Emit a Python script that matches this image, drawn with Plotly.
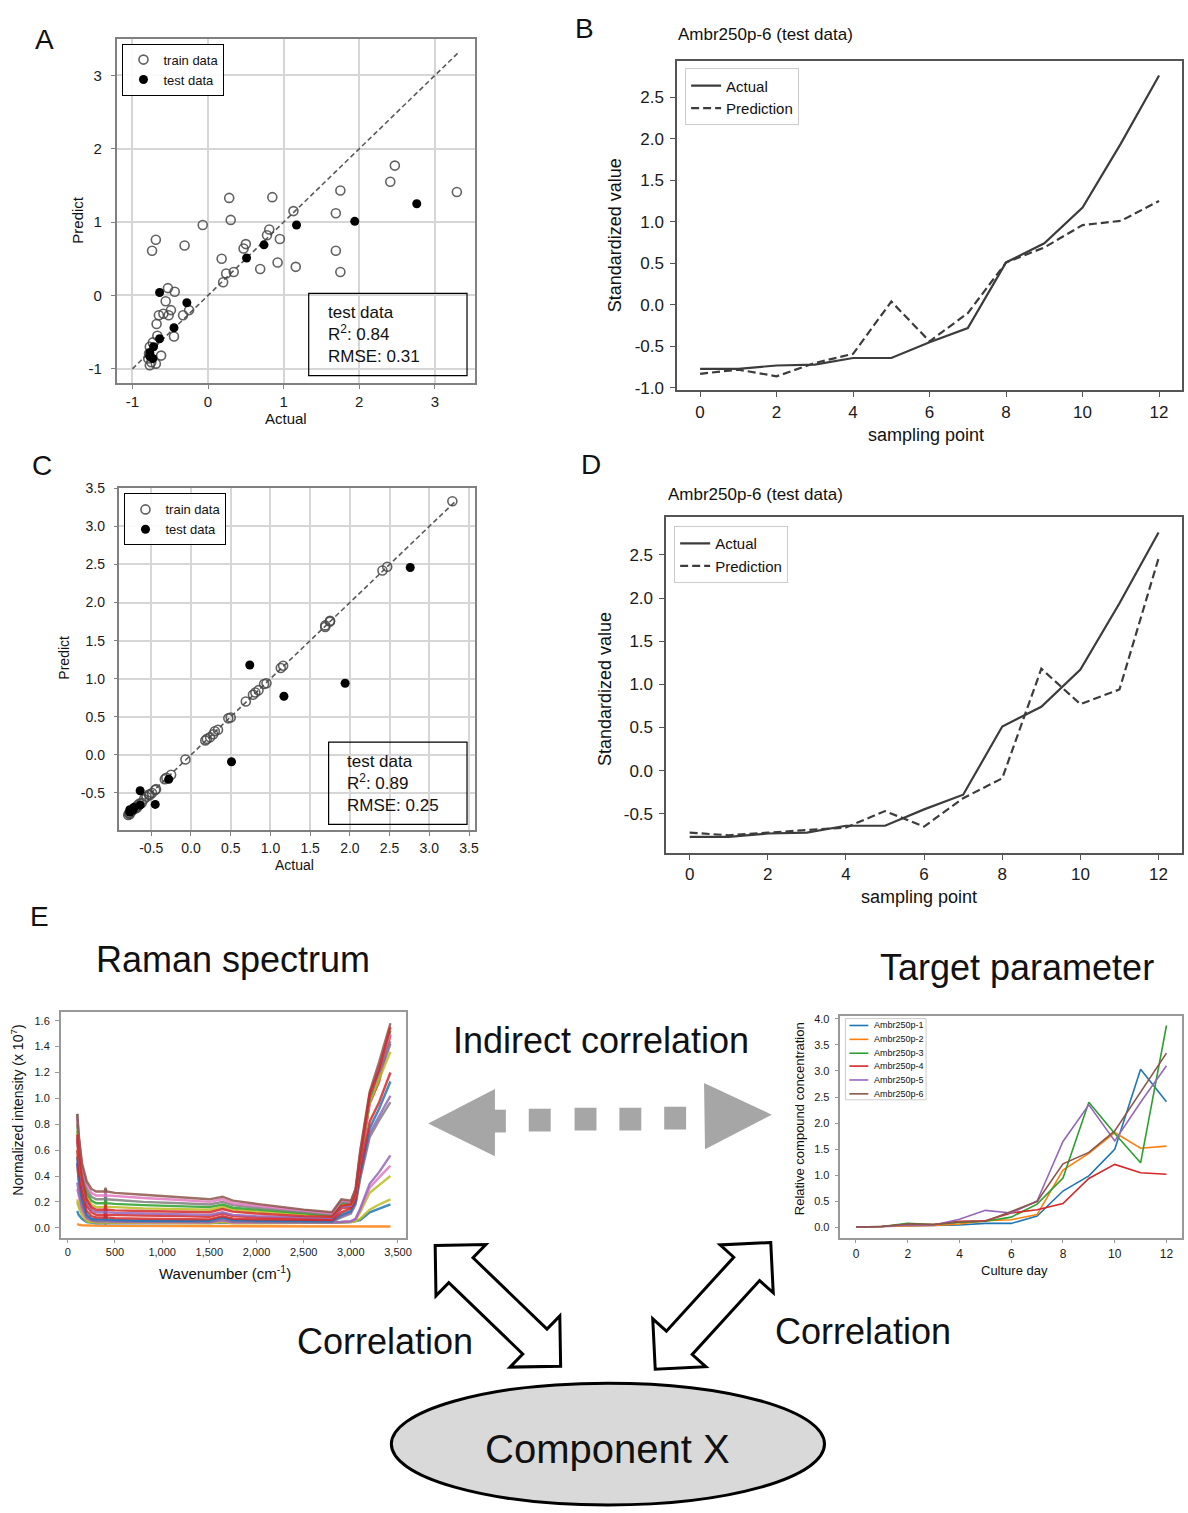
import math
import plotly.graph_objects as go

W, H = 1188, 1513
FONT = "Liberation Sans, Arial, Helvetica, sans-serif"


def px(x):
    return x / W


def py(y):
    return 1 - y / H


# ---------------- data ----------------
# Panels B / D (test run Ambr250p-6)
sampling_points = [0, 1, 2, 3, 4, 5, 6, 7, 8, 9, 10, 11, 12]
actual_std = [-0.77, -0.77, -0.73, -0.72, -0.64, -0.64, -0.45, -0.28, 0.51, 0.74, 1.17, 1.94, 2.76]
pred_B = [-0.83, -0.78, -0.86, -0.70, -0.59, 0.04, -0.44, -0.10, 0.51, 0.69, 0.96, 1.01, 1.25]
pred_D = [-0.72, -0.75, -0.72, -0.69, -0.66, -0.47, -0.65, -0.32, -0.09, 1.18, 0.77, 0.94, 2.46]

# Panels A / C training points
train_actual = [-0.69, -0.74, -0.31, -0.07, 0.28, 0.30, 0.85, 1.13, 0.81, 0.78, 0.95, 0.50, 0.47, 0.18,
                0.24, 0.34, 0.20, 0.69, 0.92, 1.16, 1.69, 1.75, 1.69, 1.75, 2.41, 2.47, 3.29, -0.53,
                -0.44, -0.56, -0.49, -0.65, -0.59, -0.52, -0.33, -0.25, -0.68, -0.45, -0.67, -0.62,
                -0.69, -0.77, -0.77, -0.78, -0.73, -0.79, -0.75]
train_pred_A = [0.76, 0.61, 0.68, 0.96, 1.33, 1.03, 1.34, 1.15, 0.90, 0.82, 0.77, 0.70, 0.64, 0.50,
                0.30, 0.32, 0.18, 0.36, 0.45, 0.39, 1.12, 1.43, 0.61, 0.32, 1.55, 1.77, 1.41, 0.10,
                0.05, -0.08, -0.20, -0.27, -0.25, -0.27, -0.27, -0.20, -0.39, -0.56, -0.55, -0.82,
                -0.93, -0.95, -0.70, -0.79, -0.64, -0.86, -0.91]
train_pred_C = [-0.68, -0.73, -0.30, -0.06, 0.27, 0.31, 0.85, 1.14, 0.82, 0.79, 0.94, 0.49, 0.48, 0.19,
                0.23, 0.33, 0.21, 0.70, 0.93, 1.17, 1.70, 1.75, 1.68, 1.76, 2.42, 2.47, 3.33, -0.52,
                -0.45, -0.55, -0.50, -0.64, -0.58, -0.53, -0.32, -0.26, -0.69, -0.46, -0.66, -0.63,
                -0.70, -0.76, -0.78, -0.77, -0.72, -0.79, -0.74]
diag_A = [-1.0, 3.3]
diag_C = [-0.8, 3.33]

# Panel E: target parameter
culture_day = [0, 1, 2, 3, 4, 5, 6, 7, 8, 9, 10, 11, 12]
ambr_names = ["Ambr250p-1", "Ambr250p-2", "Ambr250p-3", "Ambr250p-4", "Ambr250p-5", "Ambr250p-6"]
ambr_1 = [0.01, 0.02, 0.03, 0.04, 0.05, 0.08, 0.08, 0.22, 0.70, 0.99, 1.50, 3.03, 2.41]
ambr_2 = [0.01, 0.02, 0.04, 0.04, 0.07, 0.13, 0.15, 0.25, 1.10, 1.42, 1.82, 1.52, 1.56]
ambr_3 = [0.01, 0.02, 0.08, 0.06, 0.10, 0.12, 0.20, 0.45, 0.95, 2.40, 1.80, 1.24, 3.87]
ambr_4 = [0.01, 0.02, 0.06, 0.06, 0.12, 0.13, 0.28, 0.34, 0.46, 0.94, 1.21, 1.05, 1.02]
ambr_5 = [0.01, 0.02, 0.05, 0.05, 0.16, 0.33, 0.28, 0.51, 1.65, 2.35, 1.66, 2.40, 3.10]
ambr_6 = [0.01, 0.02, 0.07, 0.06, 0.11, 0.12, 0.31, 0.50, 1.22, 1.44, 1.85, 2.60, 3.34]
ambr_colors = ["#1f77b4", "#ff7f0e", "#2ca02c", "#d62728", "#9467bd", "#8c564b"]

# Panel E: Raman spectra (values read at these wavenumbers)
wavenumber = [100, 115, 150, 200, 250, 300, 390, 400, 410, 500, 800, 1200, 1500, 1640, 1750, 2000,
              2500, 2800, 2900, 3000, 3050, 3100, 3200, 3300, 3420]
spec_brown = [0.88, 0.72, 0.50, 0.36, 0.30, 0.28, 0.28, 0.31, 0.28, 0.27, 0.255, 0.235, 0.22, 0.24, 0.21, 0.185, 0.14,
              0.12, 0.22, 0.21, 0.30, 0.60, 1.05, 1.28, 1.58]
spec_pink = [0.85, 0.70, 0.48, 0.33, 0.27, 0.25, 0.25, 0.28, 0.25, 0.245, 0.23, 0.215, 0.20, 0.22, 0.19, 0.17, 0.13,
             0.11, 0.21, 0.20, 0.29, 0.58, 1.03, 1.25, 1.50]
spec_gray = [0.88, 0.70, 0.46, 0.30, 0.24, 0.22, 0.22, 0.26, 0.22, 0.215, 0.20, 0.19, 0.18, 0.20, 0.175, 0.155, 0.12,
             0.10, 0.20, 0.19, 0.28, 0.57, 1.01, 1.22, 1.44]
spec_green = [0.80, 0.66, 0.43, 0.27, 0.21, 0.19, 0.19, 0.22, 0.19, 0.185, 0.175, 0.165, 0.16, 0.18, 0.155, 0.14, 0.11,
              0.095, 0.19, 0.19, 0.27, 0.56, 1.00, 1.22, 1.52]
spec_olive = [0.75, 0.60, 0.40, 0.24, 0.18, 0.16, 0.16, 0.20, 0.16, 0.16, 0.15, 0.145, 0.14, 0.16, 0.14, 0.125, 0.10,
              0.09, 0.18, 0.18, 0.26, 0.54, 0.97, 1.15, 1.36]
spec_red = [0.72, 0.58, 0.38, 0.22, 0.16, 0.14, 0.14, 0.18, 0.14, 0.135, 0.13, 0.125, 0.12, 0.145, 0.125, 0.11, 0.09,
            0.085, 0.17, 0.18, 0.26, 0.53, 1.03, 1.22, 1.55]
spec_purple = [0.70, 0.55, 0.35, 0.20, 0.14, 0.12, 0.12, 0.16, 0.12, 0.115, 0.11, 0.105, 0.10, 0.12, 0.10, 0.09, 0.08,
               0.075, 0.16, 0.17, 0.25, 0.51, 0.98, 1.17, 1.42]
spec_red2 = [0.68, 0.52, 0.32, 0.17, 0.12, 0.10, 0.10, 0.14, 0.10, 0.10, 0.095, 0.09, 0.085, 0.11, 0.09, 0.08, 0.07,
             0.065, 0.15, 0.16, 0.24, 0.50, 0.96, 1.13, 1.49]
spec_red3 = [0.60, 0.45, 0.27, 0.13, 0.09, 0.08, 0.08, 0.12, 0.08, 0.075, 0.07, 0.065, 0.065, 0.09, 0.07, 0.065, 0.06,
             0.06, 0.12, 0.15, 0.22, 0.45, 0.82, 0.97, 1.20]
spec_blue = [0.55, 0.40, 0.22, 0.10, 0.07, 0.065, 0.065, 0.10, 0.065, 0.06, 0.055, 0.055, 0.055, 0.08, 0.06, 0.055, 0.05,
             0.05, 0.10, 0.13, 0.20, 0.42, 0.77, 0.92, 1.13]
spec_purple2 = [0.50, 0.38, 0.20, 0.09, 0.065, 0.06, 0.06, 0.09, 0.06, 0.055, 0.05, 0.05, 0.05, 0.075, 0.055, 0.05, 0.05,
                0.05, 0.09, 0.12, 0.19, 0.40, 0.73, 0.86, 1.02]
spec_gray2 = [0.50, 0.36, 0.19, 0.085, 0.06, 0.055, 0.055, 0.085, 0.055, 0.05, 0.05, 0.045, 0.045, 0.07, 0.05, 0.045,
              0.045, 0.045, 0.08, 0.11, 0.18, 0.38, 0.70, 0.83, 0.97]
spec_purple3 = [0.35, 0.28, 0.16, 0.08, 0.06, 0.05, 0.05, 0.07, 0.05, 0.05, 0.045, 0.045, 0.045, 0.06, 0.045, 0.045,
                0.04, 0.04, 0.045, 0.05, 0.07, 0.15, 0.34, 0.43, 0.56]
spec_pink2 = [0.30, 0.25, 0.14, 0.07, 0.055, 0.05, 0.05, 0.065, 0.05, 0.045, 0.045, 0.04, 0.04, 0.055, 0.04, 0.04,
              0.04, 0.04, 0.045, 0.05, 0.065, 0.14, 0.31, 0.39, 0.48]
spec_olive2 = [0.22, 0.18, 0.12, 0.06, 0.05, 0.045, 0.045, 0.06, 0.045, 0.04, 0.04, 0.04, 0.04, 0.05, 0.04, 0.04,
               0.04, 0.04, 0.045, 0.05, 0.06, 0.12, 0.27, 0.33, 0.40]
spec_olive3 = [0.20, 0.16, 0.10, 0.05, 0.045, 0.04, 0.04, 0.05, 0.04, 0.04, 0.04, 0.035, 0.035, 0.045, 0.035, 0.035,
               0.035, 0.035, 0.04, 0.045, 0.05, 0.07, 0.14, 0.18, 0.22]
spec_blue2 = [0.13, 0.10, 0.07, 0.045, 0.04, 0.035, 0.035, 0.30, 0.035, 0.035, 0.035, 0.035, 0.035, 0.04, 0.035, 0.035,
              0.035, 0.035, 0.04, 0.045, 0.05, 0.06, 0.12, 0.15, 0.18]
spec_orange = [0.03, 0.025, 0.02, 0.018, 0.016, 0.015, 0.015, 0.02, 0.015, 0.015, 0.015, 0.015, 0.015, 0.015, 0.015,
               0.015, 0.014, 0.013, 0.013, 0.012, 0.012, 0.012, 0.012, 0.012, 0.01]

# tick labels
ticks_A = [-1, 0, 1, 2, 3]
ticktext_A = ["-1", "0", "1", "2", "3"]
ticks_C = [-0.5, 0.0, 0.5, 1.0, 1.5, 2.0, 2.5, 3.0, 3.5]
ticktext_C = ["-0.5", "0.0", "0.5", "1.0", "1.5", "2.0", "2.5", "3.0", "3.5"]
ticks_B_y = [-1.0, -0.5, 0.0, 0.5, 1.0, 1.5, 2.0, 2.5]
ticktext_B_y = ["-1.0", "-0.5", "0.0", "0.5", "1.0", "1.5", "2.0", "2.5"]
ticks_D_y = [-0.5, 0.0, 0.5, 1.0, 1.5, 2.0, 2.5]
ticktext_D_y = ["-0.5", "0.0", "0.5", "1.0", "1.5", "2.0", "2.5"]
ticks_sp = [0, 2, 4, 6, 8, 10, 12]
ticks_wn = [0, 500, 1000, 1500, 2000, 2500, 3000, 3500]
ticktext_wn = ["0", "500", "1,000", "1,500", "2,000", "2,500", "3,000", "3,500"]
ticks_int = [0.0, 0.2, 0.4, 0.6, 0.8, 1.0, 1.2, 1.4, 1.6]
ticktext_int = ["0.0", "0.2", "0.4", "0.6", "0.8", "1.0", "1.2", "1.4", "1.6"]
ticks_conc = [0.0, 0.5, 1.0, 1.5, 2.0, 2.5, 3.0, 3.5, 4.0]
ticktext_conc = ["0.0", "0.5", "1.0", "1.5", "2.0", "2.5", "3.0", "3.5", "4.0"]

# ---------------- figure ----------------
fig = go.Figure()

open_marker = dict(symbol="circle-open", size=9, color="rgba(70,70,70,0.85)", line=dict(width=1.6))
fill_marker = dict(symbol="circle", size=9, color="black")
dark = "#3c3c3c"

# Panel A
fig.add_trace(go.Scatter(x=diag_A, y=diag_A, mode="lines", line=dict(color="#5a5a5a", width=1.6, dash="5px,3px"),
                         showlegend=False, xaxis="x", yaxis="y", hoverinfo="skip"))
fig.add_trace(go.Scatter(x=train_actual, y=train_pred_A, mode="markers", marker=open_marker, name="train data",
                         legend="legend", xaxis="x", yaxis="y"))
fig.add_trace(go.Scatter(x=actual_std, y=pred_B, mode="markers", marker=fill_marker, name="test data",
                         legend="legend", xaxis="x", yaxis="y"))

# Panel B
fig.add_trace(go.Scatter(x=sampling_points, y=actual_std, mode="lines", line=dict(color=dark, width=2.2),
                         name="Actual", legend="legend3", xaxis="x2", yaxis="y2"))
fig.add_trace(go.Scatter(x=sampling_points, y=pred_B, mode="lines", line=dict(color=dark, width=2.2, dash="8px,4px"),
                         name="Prediction", legend="legend3", xaxis="x2", yaxis="y2"))

# Panel C
fig.add_trace(go.Scatter(x=diag_C, y=diag_C, mode="lines", line=dict(color="#5a5a5a", width=1.6, dash="5px,3px"),
                         showlegend=False, xaxis="x3", yaxis="y3", hoverinfo="skip"))
fig.add_trace(go.Scatter(x=train_actual, y=train_pred_C, mode="markers", marker=open_marker, name="train data",
                         legend="legend2", xaxis="x3", yaxis="y3"))
fig.add_trace(go.Scatter(x=actual_std, y=pred_D, mode="markers", marker=fill_marker, name="test data",
                         legend="legend2", xaxis="x3", yaxis="y3"))

# Panel D
fig.add_trace(go.Scatter(x=sampling_points, y=actual_std, mode="lines", line=dict(color=dark, width=2.2),
                         name="Actual", legend="legend4", xaxis="x4", yaxis="y4"))
fig.add_trace(go.Scatter(x=sampling_points, y=pred_D, mode="lines", line=dict(color=dark, width=2.2, dash="8px,4px"),
                         name="Prediction", legend="legend4", xaxis="x4", yaxis="y4"))

# Panel E: Raman spectra
spectra = [
    (spec_orange, "#ff7f0e"), (spec_blue2, "#1f77b4"), (spec_olive3, "#bcbd22"), (spec_olive2, "#bcbd22"),
    (spec_pink2, "#e377c2"), (spec_purple3, "#9467bd"), (spec_gray2, "#7f7f7f"), (spec_purple2, "#9467bd"),
    (spec_blue, "#1f77b4"), (spec_red3, "#d62728"), (spec_red2, "#d62728"), (spec_purple, "#9467bd"),
    (spec_olive, "#bcbd22"), (spec_green, "#2ca02c"), (spec_gray, "#7f7f7f"), (spec_pink, "#e377c2"),
    (spec_brown, "#8c564b"), (spec_red, "#d62728"),
]
for vals, col in spectra:
    fig.add_trace(go.Scatter(x=wavenumber, y=vals, mode="lines", line=dict(color=col, width=2.4), opacity=0.85,
                             showlegend=False, xaxis="x5", yaxis="y5", hoverinfo="skip"))

# Panel E: target parameter
for name, vals, col in zip(ambr_names, [ambr_1, ambr_2, ambr_3, ambr_4, ambr_5, ambr_6], ambr_colors):
    fig.add_trace(go.Scatter(x=culture_day, y=vals, mode="lines", line=dict(color=col, width=1.6), name=name,
                             showlegend=False, xaxis="x6", yaxis="y6"))


def box_axis(dom, rng, tv, tt, line="#808080", grid=False, size=14, ticklen=4, standoff=0):
    d = dict(domain=dom, range=rng, tickmode="array", tickvals=tv, ticktext=tt, showline=True, mirror=True,
             linecolor=line, linewidth=1.5, ticks="outside", ticklen=ticklen, tickcolor=line, tickwidth=1.2,
             zeroline=False, showgrid=grid, gridcolor="#d6d6d6", gridwidth=1.5,
             tickfont=dict(size=size, family=FONT, color="#1a1a1a"), ticklabelstandoff=standoff, fixedrange=True)
    return d


def xdom(a, b):
    return [px(a), px(b)]


def ydom(top, bottom):
    return [py(bottom), py(top)]


layout_axes = dict(
    xaxis=dict(box_axis(xdom(117, 477), [-1.21, 3.53], ticks_A, ticktext_A, grid=True, size=15), anchor="y"),
    yaxis=dict(box_axis(ydom(32, 380), [-1.2, 3.5], ticks_A, ticktext_A, grid=True, size=15, standoff=6), anchor="x"),
    xaxis2=dict(box_axis(xdom(680, 1187), [-0.6, 12.6], ticks_sp, [str(t) for t in ticks_sp], line="#555555",
                         size=17, ticklen=5), anchor="y2"),
    yaxis2=dict(box_axis(ydom(54, 387), [-1.03, 2.94], ticks_B_y, ticktext_B_y, line="#555555", size=17,
                         ticklen=5, standoff=3), anchor="x2"),
    xaxis3=dict(box_axis(xdom(120, 477), [-0.9, 3.575], ticks_C, ticktext_C, grid=True, size=14), anchor="y3"),
    yaxis3=dict(box_axis(ydom(485, 831), [-0.99, 3.51], ticks_C, ticktext_C, grid=True, size=14, standoff=6),
                anchor="x3"),
    xaxis4=dict(box_axis(xdom(669, 1187), [-0.6, 12.6], ticks_sp, [str(t) for t in ticks_sp], line="#555555",
                         size=17, ticklen=5), anchor="y4"),
    yaxis4=dict(box_axis(ydom(515, 854), [-0.957, 2.937], ticks_D_y, ticktext_D_y, line="#555555", size=17,
                         ticklen=5, standoff=3), anchor="x4"),
    xaxis5=dict(box_axis(xdom(61, 408), [-75, 3588], ticks_wn, ticktext_wn, line="#999999", size=11), anchor="y5"),
    yaxis5=dict(box_axis(ydom(1014, 1242), [-0.075, 1.67], ticks_int, ticktext_int, line="#999999", size=11,
                         standoff=3), anchor="x5"),
    xaxis6=dict(box_axis(xdom(844, 1187), [-0.6, 12.6], ticks_sp, [str(t) for t in ticks_sp], line="#999999",
                         size=12), anchor="y6"),
    yaxis6=dict(box_axis(ydom(1018, 1242), [-0.19, 4.06], ticks_conc, ticktext_conc, line="#999999", size=11,
                         standoff=3), anchor="x6"),
)

# ---------------- annotations ----------------
ann = []


def text(x, y, s, size, angle=0, xanchor="center", yanchor="middle", color="#111111", align="center"):
    ann.append(dict(x=px(x), y=py(y), xref="paper", yref="paper", text=s, showarrow=False, textangle=angle,
                    xanchor=xanchor, yanchor=yanchor, align=align, font=dict(size=size, family=FONT, color=color)))


# panel letters
text(45, 33, "A", 28)
text(587, 22, "B", 28)
text(42, 463, "C", 28)
text(593, 462, "D", 28)
text(40, 918, "E", 28)

# panel titles
text(679, 28, "Ambr250p-6 (test data)", 17, xanchor="left")
text(669, 492, "Ambr250p-6 (test data)", 17, xanchor="left")

# axis titles
text(287, 415, "Actual", 15)
text(77, 215, "Predict", 15, angle=-90)
text(296, 866, "Actual", 14)
text(64, 657, "Predict", 14, angle=-90)
text(930, 432, "sampling point", 18)
text(617, 230, "Standardized value", 18, angle=-90)
text(923, 898, "sampling point", 18)
text(607, 688, "Standardized value", 18, angle=-90)
text(226, 1277, "Wavenumber (cm<sup>-1</sup>)", 15)
text(17, 1113, "Normalized intensity (x 10<sup>7</sup>)", 14, angle=-90)
text(1019, 1275, "Culture day", 13)
text(803, 1122, "Relative compound concentration", 13, angle=-90)

# metric boxes text
text(327, 297, "test data<br>R<sup>2</sup>: 0.84<br>RMSE: 0.31", 17, xanchor="left", yanchor="top", align="left")
text(346, 750, "test data<br>R<sup>2</sup>: 0.89<br>RMSE: 0.25", 17, xanchor="left", yanchor="top", align="left")

# diagram text
text(234, 961, "Raman spectrum", 36)
text(1021, 969, "Target parameter", 36)
text(604, 1043, "Indirect correlation", 36)
text(387, 1347, "Correlation", 36)
text(867, 1337, "Correlation", 36)
text(610, 1455, "Component X", 40)

# manual legend for the target-parameter panel
legend_rows = [1028, 1042, 1056, 1069, 1083, 1097]
for name, col, yrow in zip(ambr_names, ambr_colors, legend_rows):
    text(876, yrow, name, 9, xanchor="left")

# ---------------- shapes ----------------
shapes = []


def rect(x0, y0, x1, y1, line="black", width=1.2, fill=None):
    d = dict(type="rect", xref="paper", yref="paper", x0=px(x0), x1=px(x1), y0=py(y1), y1=py(y0),
             line=dict(color=line, width=width), layer="above")
    if fill:
        d["fillcolor"] = fill
    shapes.append(d)


def poly(points, fill, line_color=None, width=0):
    path = "M " + " L ".join(f"{px(x):.5f},{py(y):.5f}" for x, y in points) + " Z"
    d = dict(type="path", xref="paper", yref="paper", path=path, fillcolor=fill, layer="above",
             line=dict(color=line_color if line_color else fill, width=width))
    shapes.append(d)


rect(310, 289, 469, 372)
rect(330, 742, 469, 825)

# manual legend box & lines (target parameter)
rect(849, 1021, 930, 1103, line="#cccccc", width=1, fill="rgba(255,255,255,0.85)")
for col, yrow in zip(ambr_colors, legend_rows):
    shapes.append(dict(type="line", xref="paper", yref="paper", x0=px(853), x1=px(872), y0=py(yrow), y1=py(yrow),
                       line=dict(color=col, width=1.6), layer="above"))

# grey dotted double arrow
grey = "#a6a6a6"
poly([(430, 1127), (497, 1092), (497, 1160)], grey)
rect(496, 1113, 508, 1136, line=grey, width=0, fill=grey)
for x0, y0 in [(531, 1112), (577, 1111), (622, 1111), (667, 1110)]:
    rect(x0, y0, x0 + 22, y0 + 23, line=grey, width=0, fill=grey)
poly([(707, 1086), (775, 1118), (708, 1153)], grey)


def hollow_arrow(p1, p2, L=36.0, Hh=36.0, S=17.5):
    dx, dy = p2[0] - p1[0], p2[1] - p1[1]
    d = math.hypot(dx, dy)
    ux, uy = dx / d, dy / d
    nx, ny = -uy, ux

    def pt(base, a, b):
        return (base[0] + ux * a + nx * b, base[1] + uy * a + ny * b)

    pts = [p1, pt(p1, L, Hh), pt(p1, L, S), pt(p2, -L, S), pt(p2, -L, Hh), p2,
           pt(p2, -L, -Hh), pt(p2, -L, -S), pt(p1, L, -S), pt(p1, L, -Hh)]
    poly(pts, "white", line_color="black", width=3)


hollow_arrow((437, 1250), (563, 1372))
hollow_arrow((774, 1247), (658, 1375))

# Component X ellipse
shapes.append(dict(type="circle", xref="paper", yref="paper", x0=px(393), x1=px(828), y0=py(1512), y1=py(1389),
                   fillcolor="#d9d9d9", line=dict(color="black", width=3), layer="below"))

legend_common = dict(xanchor="left", yanchor="top", bgcolor="rgba(255,255,255,0.9)", borderwidth=1,
                     tracegroupgap=0, itemclick=False, itemdoubleclick=False)

fig.update_layout(
    width=W, height=H, margin=dict(l=0, r=0, t=0, b=0),
    paper_bgcolor="white", plot_bgcolor="white",
    font=dict(family=FONT, color="#111111"),
    showlegend=True,
    legend=dict(legend_common, x=px(123), y=py(37), bordercolor="black", entrywidth=88,
                font=dict(size=13, family=FONT)),
    legend2=dict(legend_common, x=px(125), y=py(491), bordercolor="black", entrywidth=88,
                 font=dict(size=13, family=FONT)),
    legend3=dict(legend_common, x=px(688), y=py(62), bordercolor="#cccccc", font=dict(size=15, family=FONT)),
    legend4=dict(legend_common, x=px(677), y=py(524), bordercolor="#cccccc", font=dict(size=15, family=FONT)),
    annotations=ann,
    shapes=shapes,
    **layout_axes,
)

fig.write_html("out.html")
